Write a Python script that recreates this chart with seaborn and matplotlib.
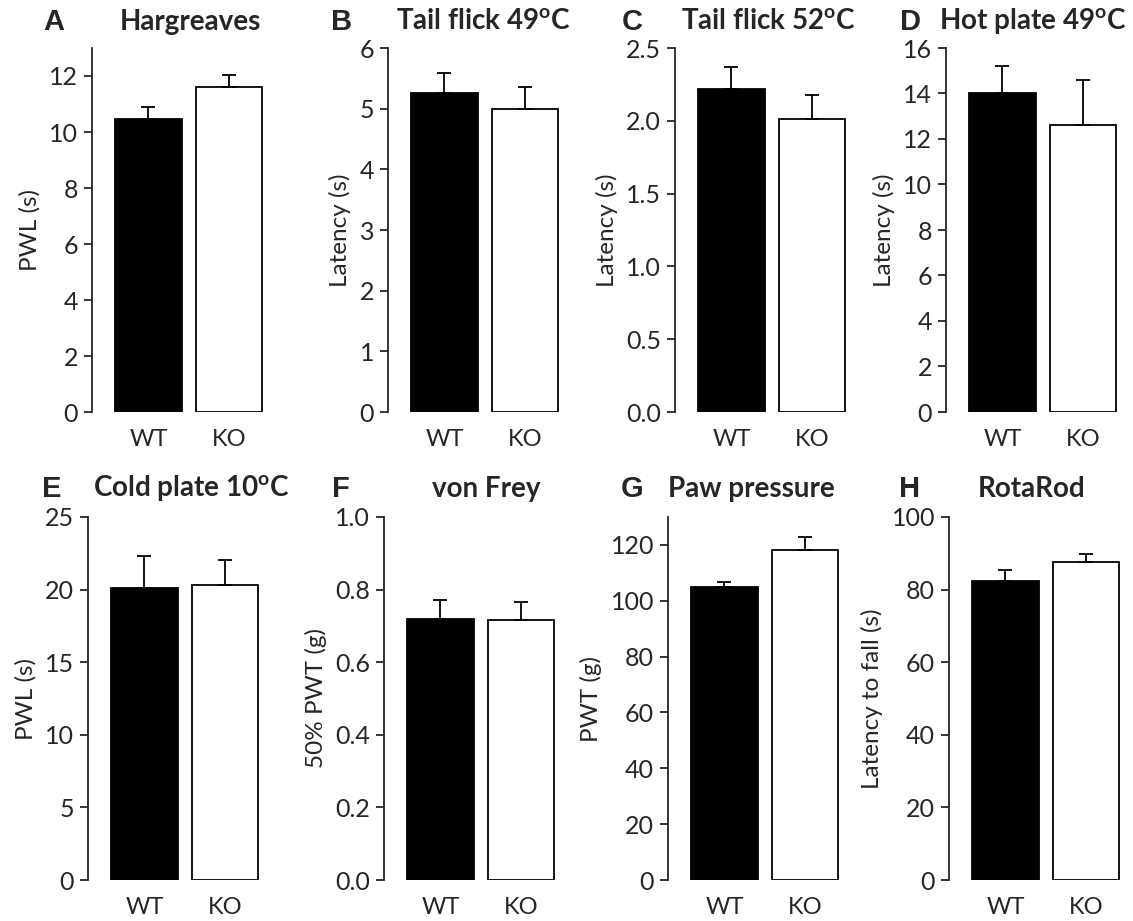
import pandas as pd
import matplotlib.pyplot as plt
import seaborn as sns

# panel data (mean and upper SEM)
letters = ["A", "B", "C", "D", "E", "F", "G", "H"]
titles = ["Hargreaves", r"Tail flick 49$^{\mathregular{o}}$C", r"Tail flick 52$^{\mathregular{o}}$C",
          r"Hot plate 49$^{\mathregular{o}}$C", r"Cold plate 10$^{\mathregular{o}}$C", "von Frey",
          "Paw pressure", "RotaRod"]
ylabels = ["PWL (s)", "Latency (s)", "Latency (s)", "Latency (s)",
           "PWL (s)", "50% PWT (g)", "PWT (g)", "Latency to fall (s)"]
groups = ["WT", "KO"]
wt_mean = [10.45, 5.25, 2.22, 14.0, 20.1, 0.72, 105.0, 82.3]
wt_sem = [0.45, 0.33, 0.15, 1.2, 2.2, 0.05, 1.8, 3.2]
ko_mean = [11.6, 5.0, 2.01, 12.6, 20.3, 0.716, 118.2, 87.7]
ko_sem = [0.45, 0.36, 0.165, 2.0, 1.75, 0.051, 4.6, 2.0]
ymax = [13, 6, 2.5, 16, 25, 1.0, 130, 100]
ystep = [2, 1, 0.5, 2, 5, 0.2, 20, 20]
ydec = [0, 0, 1, 0, 0, 1, 0, 0]

sns.set_style("ticks")
plt.rcParams['font.family'] = ['Lato', 'DejaVu Sans']
plt.rcParams['mathtext.fontset'] = 'custom'

W, H = 1133, 921
fig = plt.figure(figsize=(W / 100, H / 100), dpi=100)

# layout in pixels
spine_x = [92, 388, 675, 946, 88, 384, 668, 949]
row_top = [48, 517]
row_bot = [412, 880]
ax_w = 175
letter_x = [54, 342, 632, 910, 52, 341, 632, 910]
title_x = [190, 483, 768, 1033, 191, 486, 751, 1032]
text_y = [22, 489]

for i in range(8):
    r = i // 4
    left = spine_x[i] / W
    bottom = 1 - row_bot[r] / H
    height = (row_bot[r] - row_top[r]) / H
    ax = fig.add_axes([left, bottom, ax_w / W, height])

    df = pd.DataFrame({"genotype": groups, "value": [wt_mean[i], ko_mean[i]]})
    sns.barplot(data=df, x="genotype", y="value", hue="genotype",
                palette=["black", "white"], edgecolor="black", linewidth=1.3,
                width=0.82, errorbar=None, legend=False, ax=ax)
    ax.errorbar([0, 1], [wt_mean[i], ko_mean[i]],
                yerr=[[0, 0], [wt_sem[i], ko_sem[i]]], fmt="none",
                ecolor="black", elinewidth=1.3, capsize=5, capthick=1.3)

    ax.set_xlim(-0.7, 1.47)
    ax.set_ylim(0, ymax[i])
    n = int(round(ymax[i] / ystep[i]))
    ticks = [k * ystep[i] for k in range(n + 1) if k * ystep[i] <= ymax[i] + 1e-9]
    ax.set_yticks(ticks)
    ax.set_yticklabels([f"{t:.{ydec[i]}f}" for t in ticks])
    ax.tick_params(axis="y", length=6, width=1.3, labelsize=18, pad=4)
    ax.tick_params(axis="x", length=0, labelsize=17, pad=12)
    sns.despine(ax=ax, bottom=True)
    ax.spines["left"].set_linewidth(1.3)
    ax.set_xlabel("")
    ax.set_ylabel(ylabels[i], fontsize=17.5, labelpad=6)

    fig.text(letter_x[i] / W, 1 - text_y[r] / H, letters[i], fontsize=21,
             fontweight="bold", family=["Liberation Sans", "DejaVu Sans"],
             ha="center", va="center")
    fig.text(title_x[i] / W, 1 - text_y[r] / H, titles[i], fontsize=20,
             fontweight="bold", ha="center", va="center")

fig.savefig("out.png", dpi=100)
